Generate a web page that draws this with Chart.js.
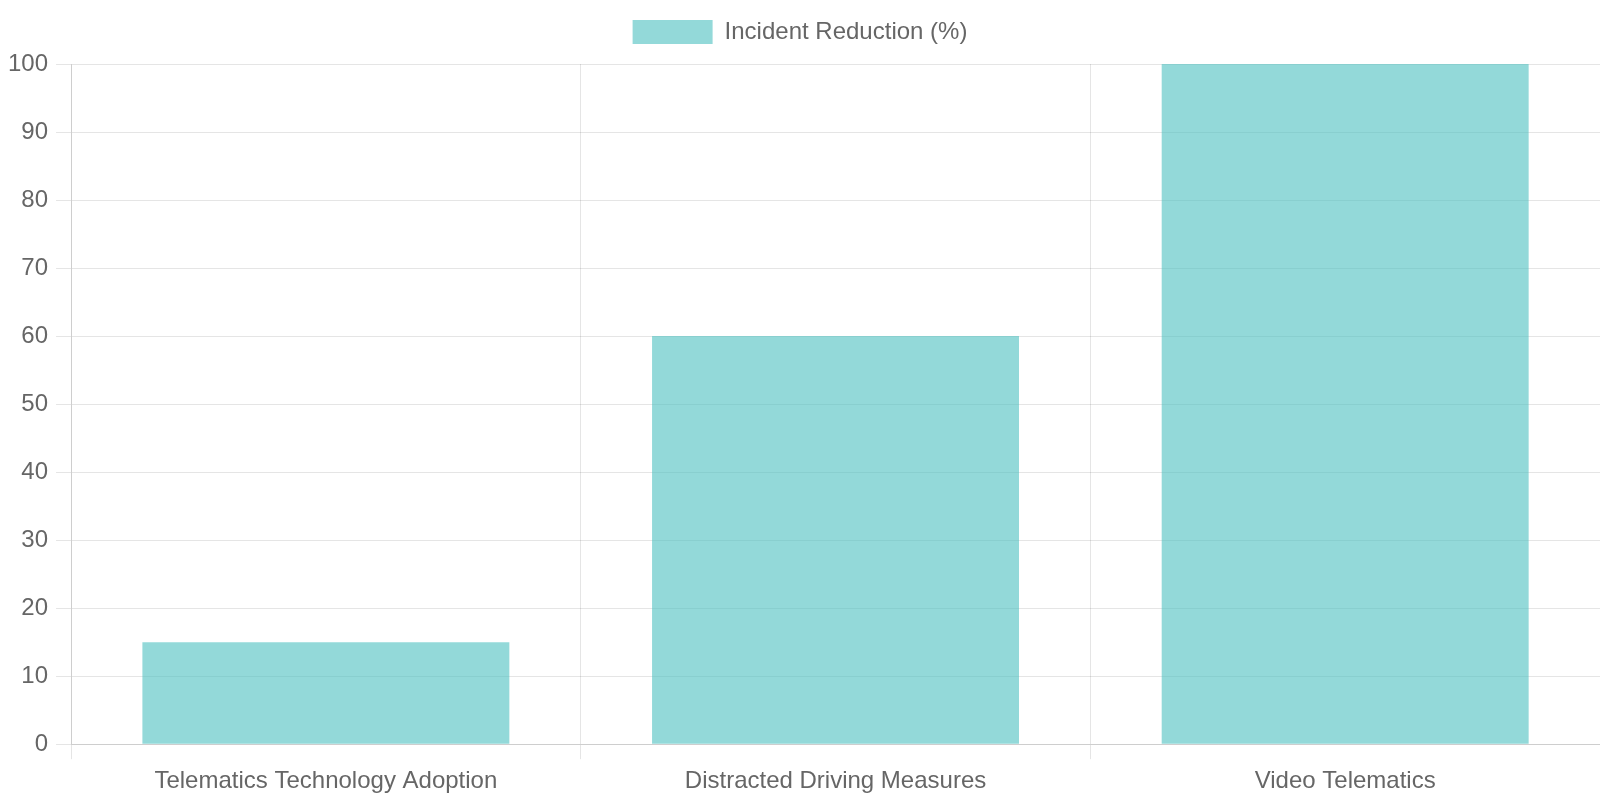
<!DOCTYPE html>
<html>
<head>
<meta charset="utf-8">
<script src="https://cdn.jsdelivr.net/npm/chart.js@4"></script>
<style>
  html, body { margin: 0; padding: 0; background: #fff; }
  #wrap { width: 1600px; height: 800px; }
</style>
</head>
<body>
<div id="wrap"><canvas id="incidentChart"></canvas></div>
<script>
// Chart data
const categories = ['Telematics Technology Adoption', 'Distracted Driving Measures', 'Video Telematics'];
const reductions = [15, 60, 100];
const seriesLabel = 'Incident Reduction (%)';

Chart.defaults.font.family = "'Liberation Sans', Arial, sans-serif";
Chart.defaults.font.size = 24;
Chart.defaults.color = '#666';

// Extra space between legend and plot area
const legendGap = {
  id: 'legendGap',
  beforeInit(chart) {
    const origFit = chart.legend.fit;
    chart.legend.fit = function() {
      origFit.bind(chart.legend)();
      this.height += 10;
    };
  }
};

const ctx = document.getElementById('incidentChart').getContext('2d');
new Chart(ctx, {
  type: 'bar',
  data: {
    labels: categories,
    datasets: [{
      label: seriesLabel,
      data: reductions,
      backgroundColor: 'rgba(75, 192, 192, 0.6)',
      borderColor: 'rgba(75, 192, 192, 0.6)',
      borderWidth: 0
    }]
  },
  options: {
    responsive: true,
    maintainAspectRatio: false,
    animation: false,
    layout: {
      padding: { bottom: -4 }
    },
    plugins: {
      legend: {
        labels: { boxWidth: 80, boxHeight: 24, padding: 20 }
      }
    },
    scales: {
      x: {
        grid: { tickLength: 15 },
        ticks: { padding: 8 }
      },
      y: {
        beginAtZero: true,
        grid: { tickLength: 15 },
        ticks: { padding: 8 }
      }
    }
  },
  plugins: [legendGap]
});
</script>
</body>
</html>
